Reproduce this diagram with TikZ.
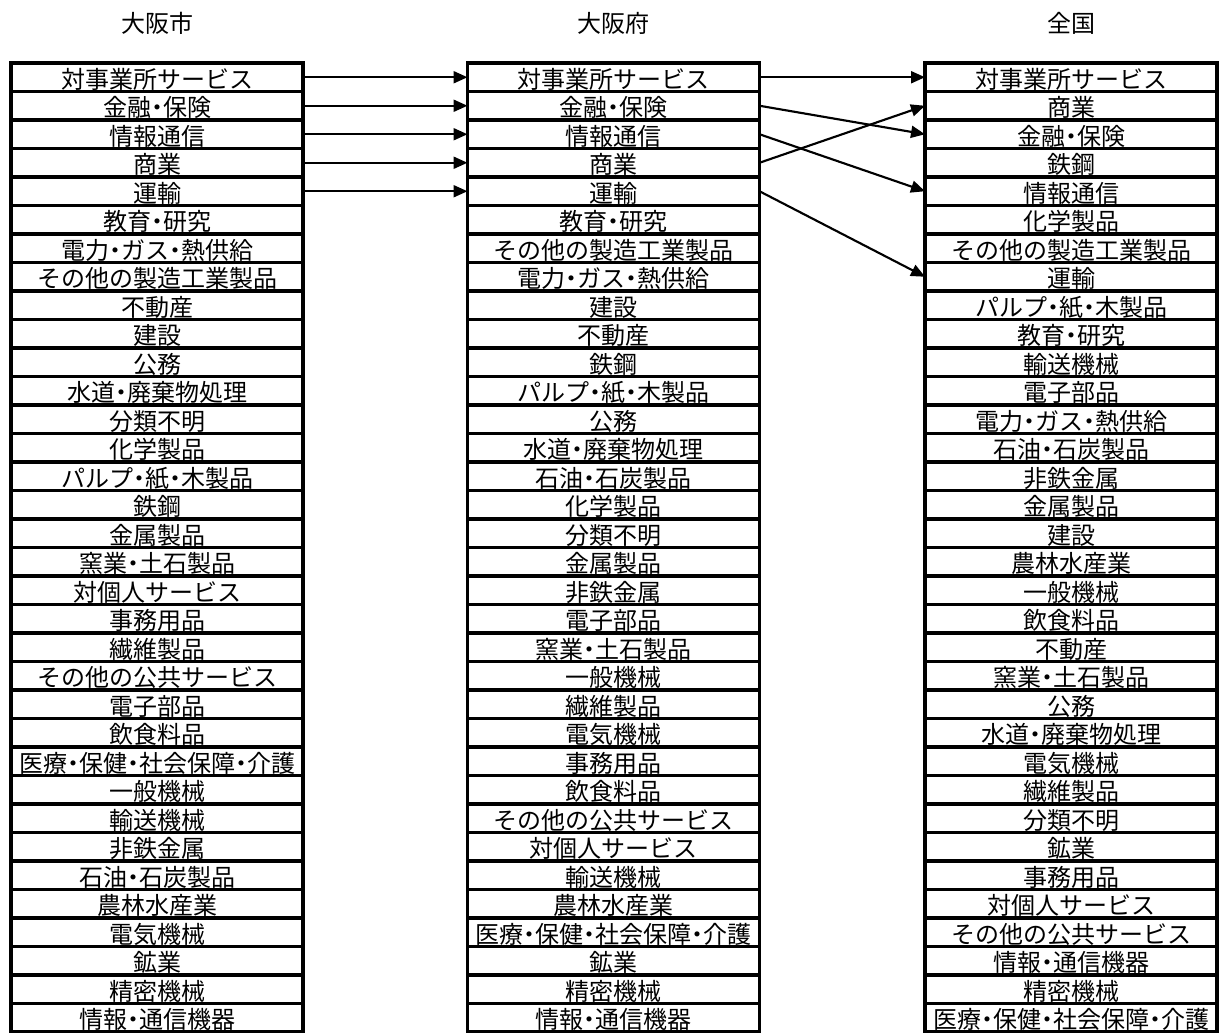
\documentclass[tikz,border=0pt]{standalone}
\usepackage{fontspec}
\setmainfont{Noto Sans CJK JP}
\usetikzlibrary{arrows.meta}
\newcommand\nd{\makebox[0.5em][c]{・}}
\tikzset{
  cell/.style={draw, line width=2.3pt, minimum width=219pt, minimum height=21.375pt,
    inner sep=0pt, outer sep=0pt, text height=19pt, text depth=2.375pt,
    font=\fontsize{18pt}{18pt}\selectfont},
  coltitle/.style={anchor=base, inner sep=0pt, font=\fontsize{18pt}{18pt}\selectfont},
  arr/.style={line width=1.6pt, -{Triangle[length=10.5pt,width=9pt]}}
}
\begin{document}
\begin{tikzpicture}[x=0.75pt,y=-0.75pt]
\useasboundingbox (0,0) rectangle (1219,1032);
\node[coltitle] (t1) at (157,32.5) {大阪市};
\node[coltitle] (t2) at (613.5,32.5) {大阪府};
\node[coltitle] (t3) at (1071,32.5) {全国};
\foreach \t [count=\i] in {対事業所サービス,金融\nd 保険,情報通信,商業,運輸,教育\nd 研究,電力\nd ガス\nd 熱供給,その他の製造工業製品,不動産,建設,公務,水道\nd 廃棄物処理,分類不明,化学製品,パルプ\nd 紙\nd 木製品,鉄鋼,金属製品,窯業\nd 土石製品,対個人サービス,事務用品,繊維製品,その他の公共サービス,電子部品,飲食料品,医療\nd 保健\nd 社会保障\nd 介護,一般機械,輸送機械,非鉄金属,石油\nd 石炭製品,農林水産業,電気機械,鉱業,精密機械,情報\nd 通信機器}
  \node[cell] (a\i) at (157,{63+(\i-0.5)*28.5}) {\makebox[0pt][c]{\t}};
\foreach \t [count=\i] in {対事業所サービス,金融\nd 保険,情報通信,商業,運輸,教育\nd 研究,その他の製造工業製品,電力\nd ガス\nd 熱供給,建設,不動産,鉄鋼,パルプ\nd 紙\nd 木製品,公務,水道\nd 廃棄物処理,石油\nd 石炭製品,化学製品,分類不明,金属製品,非鉄金属,電子部品,窯業\nd 土石製品,一般機械,繊維製品,電気機械,事務用品,飲食料品,その他の公共サービス,対個人サービス,輸送機械,農林水産業,医療\nd 保健\nd 社会保障\nd 介護,鉱業,精密機械,情報\nd 通信機器}
  \node[cell] (b\i) at (613.5,{63+(\i-0.5)*28.5}) {\makebox[0pt][c]{\t}};
\foreach \t [count=\i] in {対事業所サービス,商業,金融\nd 保険,鉄鋼,情報通信,化学製品,その他の製造工業製品,運輸,パルプ\nd 紙\nd 木製品,教育\nd 研究,輸送機械,電子部品,電力\nd ガス\nd 熱供給,石油\nd 石炭製品,非鉄金属,金属製品,建設,農林水産業,一般機械,飲食料品,不動産,窯業\nd 土石製品,公務,水道\nd 廃棄物処理,電気機械,繊維製品,分類不明,鉱業,事務用品,対個人サービス,その他の公共サービス,情報\nd 通信機器,精密機械,医療\nd 保健\nd 社会保障\nd 介護}
  \node[cell] (c\i) at (1071,{63+(\i-0.5)*28.5}) {\makebox[0pt][c]{\t}};
\foreach \i in {1,...,5}
  \draw[arr] (a\i.east) -- (b\i.west);
\draw[arr] (b1.east) -- (c1.west);
\draw[arr] (b2.east) -- (c3.west);
\draw[arr] (b3.east) -- (c5.west);
\draw[arr] (b4.east) -- (c2.west);
\draw[arr] (b5.east) -- (c8.west);
\end{tikzpicture}
\end{document}
